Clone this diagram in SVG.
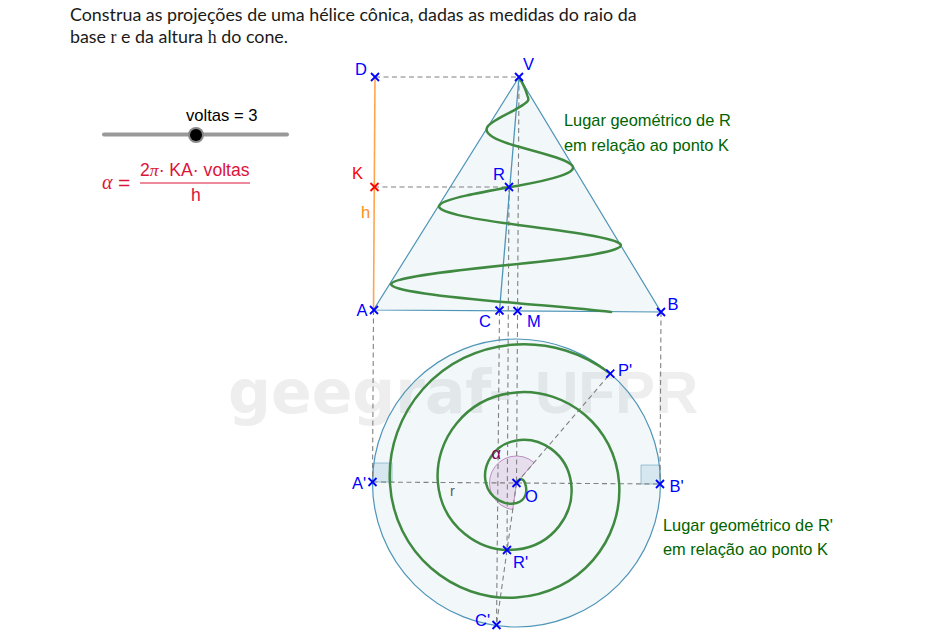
<svg xmlns="http://www.w3.org/2000/svg" width="950" height="633" viewBox="0 0 950 633">
<style>
.t{font-family:"Lato","Noto Sans",sans-serif;font-size:17.85px;fill:#1a1a1a}
.m{font-family:"Liberation Serif",serif}
.l{font-family:"Liberation Sans",Arial,sans-serif;font-size:16.5px;fill:#0000ff}
.g{font-family:"Liberation Sans",Arial,sans-serif;font-size:16.4px;fill:#006400}
.f{font-family:"Liberation Sans",Arial,sans-serif;font-size:17.6px;fill:#dc143c}
.shape{fill:#4a93b8;fill-opacity:.07;stroke:#4f95b8;stroke-width:1.2}
.d{fill:none;stroke:#808080;stroke-width:1.1;stroke-dasharray:5 3.5}
.h{fill:none;stroke:#3f8a40;stroke-width:2.5;stroke-linecap:round;stroke-linejoin:round}
.x{fill:none;stroke:#0000ff;stroke-width:1.8}
.sq{fill:#4a93b8;fill-opacity:.16;stroke:#4f95b8;stroke-width:.5}
</style>
<defs>
<g id="cross"><path class="x" d="M-4-4L4 4M-4 4L4-4"/></g>
<g id="crossr"><path d="M-4-4L4 4M-4 4L4-4" fill="none" stroke="#ff0000" stroke-width="1.8"/></g>
</defs>
<text y="413" font-size="60" font-weight="bold" fill="#eeeeee" font-family="DejaVu Sans,sans-serif"><tspan x="228">geegraf</tspan> <tspan x="488">-</tspan> <tspan x="535" font-family="Liberation Sans,Arial,sans-serif">UFPR</tspan></text>
<g id="enunciado">
<text class="t" x="70" y="21">Construa as projeções de uma hélice cônica, dadas as medidas do raio da</text>
<text class="t" x="70" y="43">base <tspan class="m">r</tspan> e da altura <tspan class="m">h</tspan> do cone.</text>
</g>
<g id="slider">
<text x="186" y="121" font-family="Liberation Sans,Arial,sans-serif" font-size="16.6" fill="#000">voltas = 3</text>
<line x1="104" y1="134.500" x2="287" y2="134.500" stroke="#999" stroke-width="4" stroke-linecap="round"/>
<circle cx="196" cy="135" r="8" fill="#888"/><circle cx="196" cy="135" r="6" fill="#000"/>
</g>
<g id="formula">
<text class="m" x="102" y="189" font-size="20" font-style="italic" fill="#dc143c">α</text>
<text class="f" x="118" y="190" style="font-size:21px">=</text>
<text class="f" x="140" y="176">2<tspan class="m" font-style="italic">π</tspan>· KA· voltas</text>
<line x1="140" y1="183" x2="250" y2="183" stroke="#dc143c" stroke-width="1"/>
<text class="f" x="191" y="201">h</text>
</g>
<g id="cone"><path class="shape" d="M519 77L373.500 310L661 312Z"/></g>
<g id="base"><circle class="shape" cx="516.500" cy="483" r="144"/></g>
<g id="squares">
<rect class="sq" x="373" y="463" width="19" height="19"/>
<rect class="sq" x="641" y="465" width="19" height="19"/>
</g>
<g id="angle"><path d="M516.500 483L534.100 462.500A27 27 0 1 0 512.700 509.700Z" fill="#800080" fill-opacity=".1" stroke="#a050a0" stroke-width=".6"/></g>
<g id="connectors">
<path class="d" d="M375 77H519M374 187H509M373.500 310L372.500 482M661 312L660 484M499.500 311L496.500 625M509 187L507 550M519 77L516.500 483M372.500 482L660 484M516.500 483L610.300 373.600M516.500 483L496.500 625"/>
<line x1="375" y1="77" x2="373.500" y2="310" stroke="#ffa64d" stroke-width="1.6"/>
<line x1="519" y1="77" x2="499.500" y2="310.500" stroke="#4f95b8" stroke-width="1.3"/>
</g>
<g id="helix-elevacao"><path class="h" d="M611 312C585 309 551 306.200 518 303.200C441.500 296.700 387.400 290.100 391.400 283.600C395.400 277.100 454.700 270.500 518 264C581.300 257.500 624.600 250.900 620.600 244.400C616.600 237.900 568 231.400 518 224.900C468 218.400 435.400 211.800 439.400 205.300C443.400 198.800 481.200 192.200 518 185.700C554.800 179.200 576.600 172.600 572.600 166.100C568.600 159.600 541.500 153 518 146.500C494.500 140 483.400 133.400 487.400 126.900C491.400 120.400 508.700 113.900 519 107.400C529 101.500 529.500 100 527.500 96C526 90 522 82 519 77"/></g>
<g id="helix-planta"><path class="h" d="M610.300 373.600C583 352.600 549.600 342.600 516.500 344.400C440 348.400 385.900 413.100 389.900 483C393.900 552.900 453.200 601.600 516.500 597.600C579.800 593.600 623.100 539.700 619.100 483C615.100 426.300 566.500 388.400 516.500 392.400C466.500 396.400 433.900 439.600 437.900 483C441.900 526.400 479.700 553.600 516.500 549.600C553.300 545.600 575.100 513.200 571.100 483C567.100 452.800 540 436.400 516.500 440.400C493 444.400 481.900 466.100 485.900 483C489.900 499.900 506.200 505.600 516.500 503C527 500 527.500 490 525 483C523.500 479 520 477 516.500 483"/></g>
<g id="D"><use href="#cross" x="375" y="77"/><text class="l" x="355" y="75">D</text></g>
<g id="V"><use href="#cross" x="519" y="77"/><text class="l" x="523" y="70">V</text></g>
<g id="K"><use href="#crossr" x="374.500" y="187"/><text class="l" style="fill:#ff0000" x="352" y="179">K</text></g>
<g id="h"><text class="l" style="fill:#ff8c1a" x="361" y="218">h</text></g>
<g id="R"><use href="#cross" x="509" y="187"/><text class="l" x="493" y="180">R</text></g>
<g id="A"><use href="#cross" x="374" y="310"/><text class="l" x="356.500" y="315.500">A</text></g>
<g id="C"><use href="#cross" x="499.500" y="310.500"/><text class="l" x="479" y="326.500">C</text></g>
<g id="M"><use href="#cross" x="517.500" y="311"/><text class="l" x="527" y="326.500">M</text></g>
<g id="B"><use href="#cross" x="661" y="312"/><text class="l" x="667.500" y="310">B</text></g>
<g id="Pl"><use href="#cross" x="610.300" y="373.600"/><text class="l" x="618" y="376">P'</text></g>
<g id="Al"><use href="#cross" x="372.500" y="482"/><text class="l" x="352" y="489">A'</text></g>
<g id="Bl"><use href="#cross" x="660" y="484"/><text class="l" x="669.500" y="492">B'</text></g>
<g id="O"><use href="#cross" x="516.500" y="483"/><text class="l" x="525" y="502">O</text></g>
<g id="Rl"><use href="#cross" x="507" y="550"/><text class="l" x="513" y="567.500">R'</text></g>
<g id="Cl"><use href="#cross" x="496.500" y="625"/><text class="l" x="475" y="626">C'</text></g>
<text x="491.500" y="459" font-family="Liberation Sans,Arial,sans-serif" font-size="16.500" fill="#800060">α</text>
<text x="450" y="496" font-family="Liberation Sans,Arial,sans-serif" font-size="14.500" fill="#606060">r</text>
<g id="lugar-R"><text class="g" x="564" y="126">Lugar geométrico de R</text><text class="g" x="564" y="151">em relação ao ponto K</text></g>
<g id="lugar-Rl"><text class="g" x="663" y="531">Lugar geométrico de R'</text><text class="g" x="663" y="555">em relação ao ponto K</text></g>
</svg>
